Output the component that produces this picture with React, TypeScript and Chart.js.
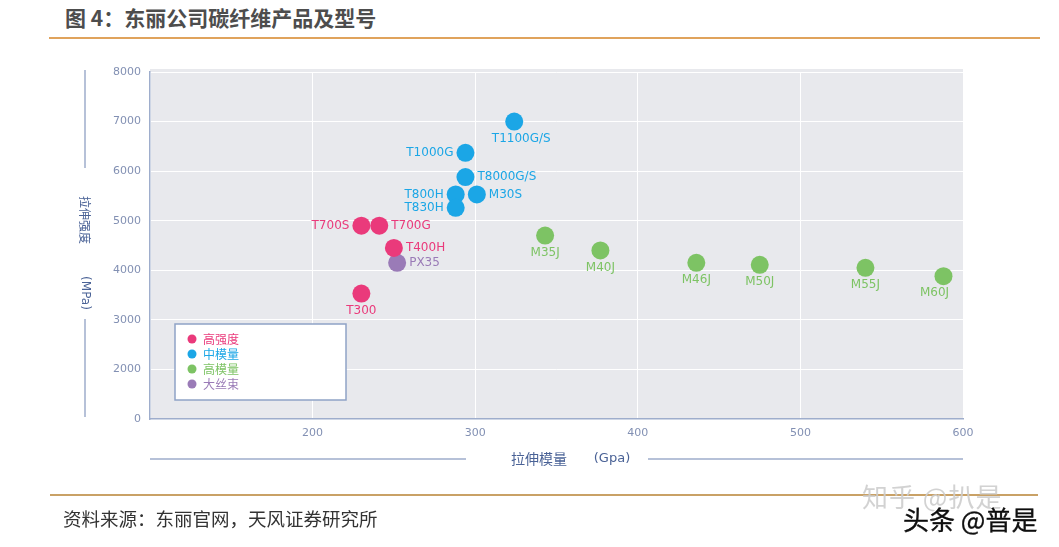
import React, { useEffect, useRef } from 'react';
import { Chart, registerables } from 'chart.js';

Chart.register(...registerables);

const W = 1059;
const H = 547;

const seriesNames = ['高强度', '中模量', '高模量', '大丝束'];
const seriesColors = ['#ea3a7b', '#1ba6e6', '#7dc364', '#9a7bb7'];

const productNames = [
  'T300', 'T400H', 'T700S', 'T700G',
  'T800H', 'T830H', 'T8000G/S', 'M30S', 'T1000G', 'T1100G/S',
  'M35J', 'M40J', 'M46J', 'M50J', 'M55J', 'M60J',
  'PX35',
];
const tensileModulus = [
  230, 250, 230, 241,
  288, 288, 294, 301, 294, 324,
  343, 377, 436, 475, 540, 588,
  252,
];
const tensileStrength = [
  3530, 4450, 4900, 4900,
  5530, 5260, 5880, 5530, 6370, 7000,
  4700, 4400, 4150, 4110, 4050, 3880,
  4150,
];
const productSeries = [
  0, 0, 0, 0,
  1, 1, 1, 1, 1, 1,
  2, 2, 2, 2, 2, 2,
  3,
];
const labelSide = [
  'below', 'right', 'left', 'right',
  'left', 'left', 'right', 'right', 'left', 'belowRight',
  'below', 'below', 'below', 'below', 'below', 'belowLeft',
  'right',
];

const xTickValues = [200, 300, 400, 500, 600];
const yTickValues = [1000, 2000, 3000, 4000, 5000, 6000, 7000, 8000];
const yTickLabels = ['0', '2000', '3000', '4000', '5000', '6000', '7000', '8000'];

const xTitle = ['拉伸模量', '(Gpa)'];
const yTitle = ['拉伸强度', '(MPa)'];

const AXIS_LINE = '#9eadcc';
const AXIS_TEXT = '#4a6296';
const TICK_TEXT = '#8290b3';
const PLOT_BG = '#e8e9ed';

const decorPlugin = {
  id: 'decor',
  beforeDraw(chart: any) {
    const { ctx, chartArea } = chart;
    ctx.save();
    ctx.fillStyle = PLOT_BG;
    ctx.fillRect(chartArea.left, chartArea.top - 3, chartArea.right - chartArea.left, chartArea.bottom - chartArea.top + 3);
    ctx.restore();
  },
  afterDatasetsDraw(chart: any) {
    const { ctx } = chart;
    ctx.save();
    ctx.font = '12px "DejaVu Sans", sans-serif';
    chart.data.datasets.forEach((ds: any, i: number) => {
      const meta = chart.getDatasetMeta(i);
      ctx.fillStyle = ds.backgroundColor;
      meta.data.forEach((el: any, j: number) => {
        const d = ds.data[j];
        const { x, y } = el;
        ctx.textBaseline = 'middle';
        if (d.side === 'left') {
          ctx.textAlign = 'right';
          ctx.fillText(d.name, x - 12, y);
        } else if (d.side === 'right') {
          ctx.textAlign = 'left';
          ctx.fillText(d.name, x + 12, y);
        } else {
          ctx.textAlign = 'center';
          const dx = d.side === 'belowRight' ? 7 : d.side === 'belowLeft' ? -9 : 0;
          ctx.fillText(d.name, x + dx, y + 17);
        }
      });
    });
    ctx.restore();
  },
  afterDraw(chart: any) {
    const { ctx, chartArea } = chart;
    ctx.save();
    // y axis title with decorative lines
    ctx.strokeStyle = AXIS_LINE;
    ctx.lineWidth = 1.5;
    ctx.beginPath();
    ctx.moveTo(85, 70);
    ctx.lineTo(85, 168);
    ctx.moveTo(85, 319);
    ctx.lineTo(85, 417);
    // x axis title lines
    ctx.moveTo(chartArea.left, 459);
    ctx.lineTo(466, 459);
    ctx.moveTo(648, 459);
    ctx.lineTo(chartArea.right, 459);
    ctx.stroke();

    ctx.fillStyle = AXIS_TEXT;
    ctx.textAlign = 'center';
    ctx.textBaseline = 'middle';
    ctx.font = '12px "Noto Sans CJK SC", sans-serif';
    ctx.save();
    ctx.translate(85, 220);
    ctx.rotate(Math.PI / 2);
    ctx.fillText(yTitle[0], 0, 0);
    ctx.restore();
    ctx.save();
    ctx.translate(85, 293);
    ctx.rotate(Math.PI / 2);
    ctx.font = '12px "DejaVu Sans", sans-serif';
    ctx.fillText(yTitle[1], 0, 0);
    ctx.restore();

    ctx.font = '14px "Noto Sans CJK SC", sans-serif';
    ctx.fillText(xTitle[0], 539, 459);
    ctx.font = '13px "DejaVu Sans", sans-serif';
    ctx.fillText(xTitle[1], 612, 459);

    // legend box
    ctx.fillStyle = '#ffffff';
    ctx.fillRect(175, 324, 171, 76);
    ctx.strokeStyle = '#8fa3c6';
    ctx.lineWidth = 1.5;
    ctx.strokeRect(175, 324, 171, 76);
    ctx.textAlign = 'left';
    ctx.font = '12px "Noto Sans CJK SC", sans-serif';
    seriesNames.forEach((name, i) => {
      const y = 339 + i * 15;
      ctx.fillStyle = seriesColors[i];
      ctx.beginPath();
      ctx.arc(192, y, 4.5, 0, Math.PI * 2);
      ctx.fill();
      ctx.fillText(name, 203, y);
    });
    ctx.restore();
  },
};

export default function App() {
  const canvasRef = useRef<HTMLCanvasElement | null>(null);

  useEffect(() => {
    const canvas = canvasRef.current;
    if (!canvas) return;
    const datasets = seriesNames.map((name, s) => ({
      label: name,
      backgroundColor: seriesColors[s],
      borderWidth: 0,
      pointRadius: 9,
      pointHoverRadius: 9,
      data: productNames
        .map((p, k) => ({ x: tensileModulus[k], y: tensileStrength[k], name: p, side: labelSide[k], s: productSeries[k] }))
        .filter((d) => d.s === s),
    }));
    const chart = new Chart(canvas, {
      type: 'scatter',
      data: { datasets },
      options: {
        animation: false,
        responsive: false,
        maintainAspectRatio: false,
        layout: { padding: { left: 0, right: 96, top: 72, bottom: 0 } },
        plugins: { legend: { display: false }, tooltip: { enabled: false } },
        scales: {
          x: {
            type: 'linear',
            min: 100,
            max: 600,
            afterFit: (s: any) => { s.height = H - 419; },
            afterBuildTicks: (s: any) => { s.ticks = [100, ...xTickValues].map((v) => ({ value: v })); },
            ticks: {
              padding: 8,
              color: TICK_TEXT,
              font: { family: '"DejaVu Sans", sans-serif', size: 11 },
              callback: (v: any) => (xTickValues.includes(v) ? String(v) : ''),
              maxRotation: 0,
            },
            grid: { color: '#ffffff', lineWidth: 1, drawTicks: false },
            border: { color: AXIS_LINE, width: 1.5 },
          },
          y: {
            type: 'linear',
            min: 1000,
            max: 8000,
            afterFit: (s: any) => { s.width = 150; },
            afterBuildTicks: (s: any) => { s.ticks = yTickValues.map((v) => ({ value: v })); },
            ticks: {
              padding: 9,
              color: TICK_TEXT,
              font: { family: '"DejaVu Sans", sans-serif', size: 11 },
              callback: (v: any) => {
                const i = yTickValues.indexOf(v);
                return i >= 0 ? yTickLabels[i] : '';
              },
            },
            grid: { color: '#ffffff', lineWidth: 1, drawTicks: false },
            border: { color: AXIS_LINE, width: 1.5 },
          },
        },
      },
      plugins: [decorPlugin],
    } as any);
    return () => chart.destroy();
  }, []);

  return (
    <div style={{ position: 'absolute', left: 0, top: 0, width: W, height: H, background: '#ffffff', overflow: 'hidden' }}>
      <div style={{ position: 'absolute', left: 65, top: 4, font: 'bold 21px "Noto Sans CJK SC", sans-serif', color: '#4d4d4d', lineHeight: '26px', whiteSpace: 'nowrap' }}>
        图 4：东丽公司碳纤维产品及型号
      </div>
      <div style={{ position: 'absolute', left: 49, top: 37, width: 991, height: 2, background: '#e0a35c' }} />
      <canvas ref={canvasRef} width={W} height={H} style={{ position: 'absolute', left: 0, top: 0, width: W, height: H }} />
      <div style={{ position: 'absolute', left: 50, top: 494, width: 988, height: 2, background: '#c9a166' }} />
      <div style={{ position: 'absolute', left: 862, top: 480, font: '26px "Noto Sans CJK SC", sans-serif', color: 'rgba(205,205,205,0.9)', lineHeight: '32px', whiteSpace: 'nowrap', letterSpacing: '1px' }}>
        知乎 @扒是
      </div>
      <div style={{ position: 'absolute', left: 63, top: 505, font: '18.5px "Noto Sans CJK SC", sans-serif', color: '#333333', lineHeight: '26px', whiteSpace: 'nowrap' }}>
        资料来源：东丽官网，天风证券研究所
      </div>
      <div style={{ position: 'absolute', left: 903, top: 503, font: '26px "Noto Sans CJK SC", sans-serif', color: '#111111', lineHeight: '32px', whiteSpace: 'nowrap', WebkitTextStroke: '0.3px #000', textShadow: '1px 1px 0 #fff, -1px -1px 0 #fff' }}>
        头条 @普是
      </div>
    </div>
  );
}
